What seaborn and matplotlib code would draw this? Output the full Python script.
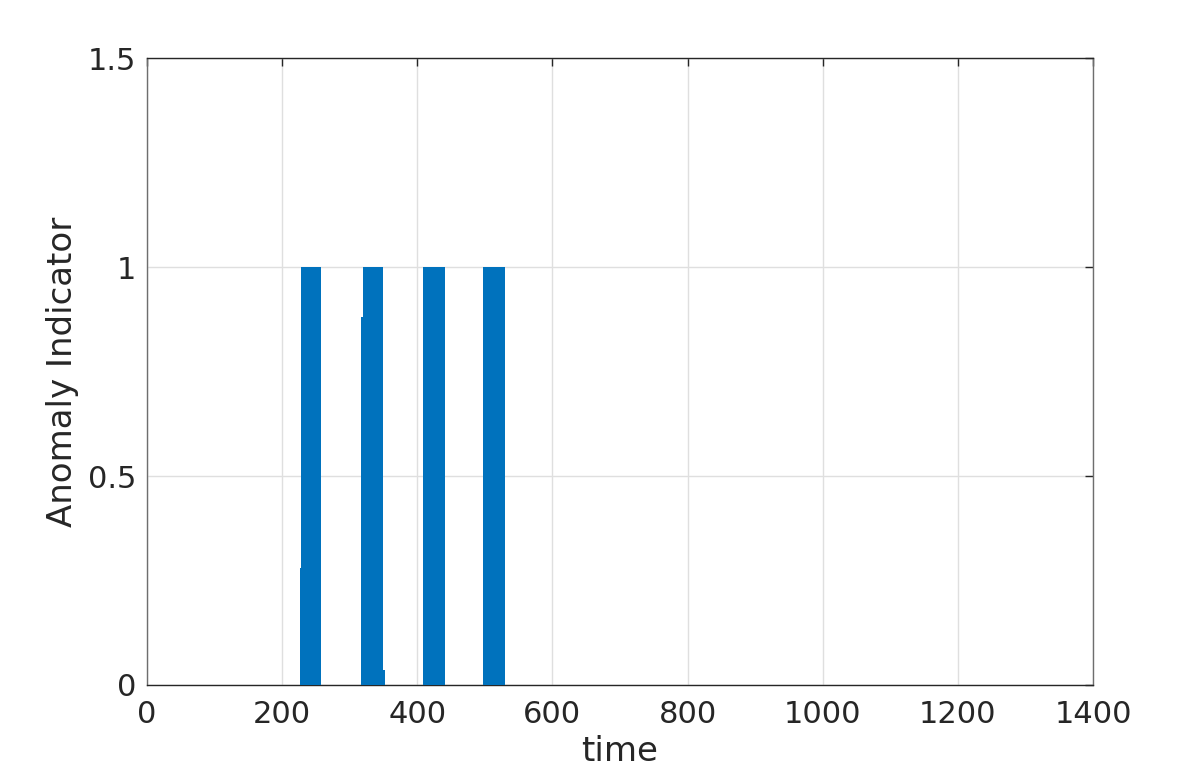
import numpy as np
import pandas as pd
import matplotlib
matplotlib.use("Agg")
import matplotlib.pyplot as plt
import seaborn as sns

# anomaly indicator segments (start time, end time, level)
seg_start = [226.5, 228.0, 317.0, 319.5, 350.0, 408.0, 497.0]
seg_end = [228.0, 257.5, 319.5, 350.0, 352.0, 441.0, 530.0]
seg_level = [0.28, 1.0, 0.88, 1.0, 0.035, 1.0, 1.0]

x_ticks = [0, 200, 400, 600, 800, 1000, 1200, 1400]
y_ticks = [0, 0.5, 1, 1.5]
y_tick_labels = ["0", "0.5", "1", "1.5"]

df = pd.DataFrame({"start": seg_start, "end": seg_end, "level": seg_level})
df["width"] = df["end"] - df["start"]

sns.set_style("white")
plt.rcParams["font.family"] = ["DejaVu Sans"]

fig = plt.figure(figsize=(11.96, 7.74), dpi=100)
ax = fig.add_axes([0.1229, 0.115, 0.7910, 0.810])

blue = "#0072BD"
ax.bar(df["start"], df["level"], width=df["width"], align="edge",
       color=blue, edgecolor="none", linewidth=0, zorder=3)

ax.set_xlim(0, 1400)
ax.set_ylim(0, 1.5)
ax.set_xticks(x_ticks)
ax.set_yticks(y_ticks)
ax.set_yticklabels(y_tick_labels)

ax.grid(True, color="#dfdfdf", linewidth=1.0, zorder=0)
ax.set_axisbelow(True)

txt = "#262626"
for name, s in ax.spines.items():
    s.set_visible(True)
    s.set_linewidth(1.0)
    s.set_color(txt if name in ("top", "bottom") else "#6e6e6e")

ax.tick_params(axis="both", direction="in", length=6, width=1.0,
               colors=txt, labelsize=22, top=True, right=True, pad=8)
ax.tick_params(axis="x", pad=11)
ax.set_xlabel("time", fontsize=24.5, color=txt, labelpad=4)
ax.set_ylabel("Anomaly Indicator", fontsize=24.5, color=txt, labelpad=6)

fig.savefig("out.png", dpi=100)
